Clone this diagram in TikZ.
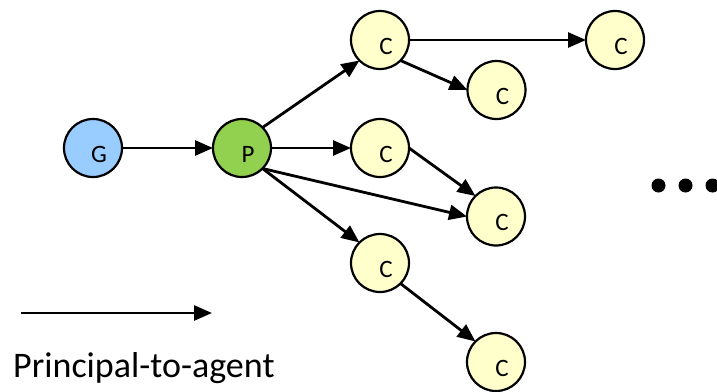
\documentclass[tikz,border=0pt]{standalone}
\usepackage{fontspec}
\setmainfont{Carlito}
\usetikzlibrary{arrows.meta}
\definecolor{gfill}{HTML}{99CCFF}
\definecolor{pfill}{HTML}{92D050}
\definecolor{cfill}{HTML}{FFFFCC}
\tikzset{
  agent/.style={circle,draw=black,line width=2.2pt,minimum size=58pt,inner sep=0pt,outer sep=0pt,
    label={[font=\fontsize{25}{25}\selectfont,xshift=6pt,yshift=-6pt]center:#1}},
  gnode/.style={agent=G,fill=gfill},
  pnode/.style={agent=P,fill=pfill},
  cnode/.style={agent=C,fill=cfill},
  conn/.style={line width=2.8pt,-{Triangle[length=18pt,width=15pt]}},
  dotmark/.style={circle,fill=black,minimum size=14pt,inner sep=0pt}
}
\begin{document}
\begin{tikzpicture}[x=1pt,y=-1pt]
\useasboundingbox (0,0) rectangle (717,391);
\node[gnode] (g) at (93,148) {};
\node[pnode] (p) at (242,148) {};
\node[cnode] (c1) at (380,40) {};
\node[cnode] (c2) at (615,40) {};
\node[cnode] (c3) at (496.5,90) {};
\node[cnode] (c4) at (380,148) {};
\node[cnode] (c5) at (496,216.5) {};
\node[cnode] (c6) at (380,263) {};
\node[cnode] (c7) at (496,362) {};
\draw[conn] (g.east) -- (p.west);
\draw[conn] (p.north east) -- (c1.south west);
\draw[conn] (p.east) -- (c4.west);
\draw[conn] (p.south east) -- (c5.west);
\draw[conn] (p.south east) -- (c6.north west);
\draw[conn] (c1.east) -- (c2.west);
\draw[conn] (c1.south east) -- (c3.west);
\draw[conn] (c4.east) -- (c5.north west);
\draw[conn] (c6.south east) -- (c7.north west);
\node[dotmark] (d1) at (658.5,185.5) {};
\node[dotmark] (d2) at (685.5,185.5) {};
\node[dotmark] (d3) at (712.5,185.5) {};
\coordinate (la) at (21,313);
\coordinate (lb) at (212,313);
\draw[conn] (la) -- (lb);
\node[anchor=base west,inner sep=0pt,font=\fontsize{36}{36}\selectfont] (legend) at (13,377) {Principal-to-agent};
\end{tikzpicture}
\end{document}
